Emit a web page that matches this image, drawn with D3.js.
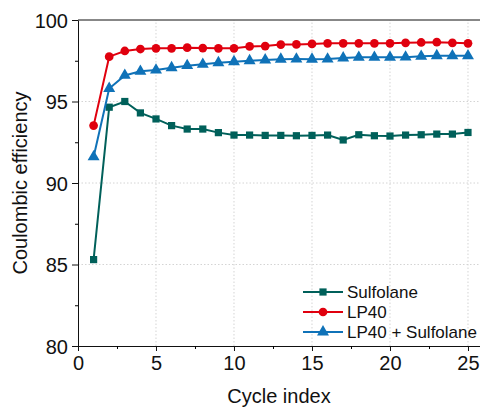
<!DOCTYPE html>
<html>
<head>
<meta charset="utf-8">
<script src="https://cdn.jsdelivr.net/npm/d3@7"></script>
<style>
  html, body { margin: 0; padding: 0; background: #fff; }
  svg { display: block; font-family: "Liberation Sans", Arial, sans-serif; }
</style>
</head>
<body>
<svg id="chart" width="480" height="408"></svg>
<script>
const cycles = d3.range(1, 26);

const sulfolane = [85.3, 94.65, 95.0, 94.3, 93.93, 93.52, 93.31, 93.31, 93.09, 92.94,
  92.94, 92.92, 92.92, 92.9, 92.92, 92.94, 92.64, 92.96, 92.9, 92.88,
  92.94, 92.96, 93.0, 93.0, 93.1];
const lp40 = [93.52, 97.75, 98.1, 98.22, 98.26, 98.26, 98.3, 98.28, 98.26, 98.26,
  98.38, 98.4, 98.49, 98.5, 98.53, 98.57, 98.57, 98.57, 98.57, 98.57,
  98.6, 98.62, 98.64, 98.6, 98.57];
const lp40Sulfolane = [91.6, 95.8, 96.6, 96.85, 96.93, 97.07, 97.2, 97.28, 97.38, 97.44,
  97.5, 97.55, 97.59, 97.6, 97.59, 97.6, 97.67, 97.71, 97.71, 97.71,
  97.72, 97.77, 97.81, 97.8, 97.8];

const seriesNames = ['Sulfolane', 'LP40', 'LP40 + Sulfolane'];
const seriesValues = [sulfolane, lp40, lp40Sulfolane];
const seriesColors = ['#00605a', '#e0000e', '#0f72b8'];
const seriesSymbols = [d3.symbolSquare, d3.symbolCircle, d3.symbolTriangle];
const symbolSizes = [52, 60, 62];

const xTicks = [0, 5, 10, 15, 20, 25];
const yTicks = [80, 85, 90, 95, 100];

const margin = { top: 20, right: 0, bottom: 62, left: 78 };
const width = 480, height = 408;

const svg = d3.select('#chart');

const x = d3.scaleLinear().domain([0, 25.77]).range([margin.left, width - margin.right]);
const y = d3.scaleLinear().domain([80, 100]).range([height - margin.bottom, margin.top]);

// dotted grid
const grid = svg.append('g')
  .attr('stroke', '#d4d4d4')
  .attr('stroke-width', 1)
  .attr('stroke-dasharray', '1.5,2');
grid.selectAll('.gx').data(xTicks.filter(d => d > 0))
  .enter().append('line')
  .attr('x1', d => x(d)).attr('x2', d => x(d))
  .attr('y1', y(80)).attr('y2', y(100));
grid.selectAll('.gy').data(yTicks.filter(d => d > 80 && d < 100))
  .enter().append('line')
  .attr('x1', x(0)).attr('x2', width)
  .attr('y1', d => y(d)).attr('y2', d => y(d));

// axes
const xAxis = svg.append('g')
  .attr('transform', `translate(0,${y(80)})`)
  .call(d3.axisBottom(x).tickValues(xTicks).tickSize(5).tickPadding(4).tickSizeOuter(0));
svg.append('g')
  .attr('transform', `translate(0,${y(80)})`)
  .call(d3.axisBottom(x).tickValues([2.5, 7.5, 12.5, 17.5, 22.5]).tickSize(3).tickFormat(''))
  .select('.domain').remove();

const yAxis = svg.append('g')
  .attr('transform', `translate(${x(0)},0)`)
  .call(d3.axisLeft(y).tickValues(yTicks).tickSize(6).tickPadding(4).tickSizeOuter(0));
svg.append('g')
  .attr('transform', `translate(${x(0)},0)`)
  .call(d3.axisLeft(y).tickValues([82.5, 87.5, 92.5, 97.5]).tickSize(3).tickFormat(''))
  .select('.domain').remove();

[xAxis, yAxis].forEach(a => {
  a.selectAll('text').attr('font-size', 20).attr('fill', '#111')
    .attr('font-family', '"Liberation Sans", Arial, sans-serif');
  a.selectAll('line, path').attr('stroke', '#111');
});
xAxis.selectAll('text').attr('dy', '0.75em');
yAxis.selectAll('text').attr('dy', '0.36em');

// top frame
svg.append('line')
  .attr('x1', x(0)).attr('x2', width)
  .attr('y1', y(100)).attr('y2', y(100))
  .attr('stroke', '#111');

// axis titles
svg.append('text')
  .attr('x', (x(0) + width) / 2).attr('y', 403)
  .attr('text-anchor', 'middle').attr('font-size', 20).attr('fill', '#111')
  .text('Cycle index');
svg.append('text')
  .attr('transform', `translate(27,${(y(80) + y(100)) / 2}) rotate(-90)`)
  .attr('text-anchor', 'middle').attr('font-size', 20).attr('fill', '#111')
  .text('Coulombic efficiency');

// series
const line = d3.line().x((d, i) => x(cycles[i])).y(d => y(d));
seriesValues.forEach((vals, k) => {
  const g = svg.append('g');
  g.append('path')
    .attr('d', line(vals))
    .attr('fill', 'none')
    .attr('stroke', seriesColors[k])
    .attr('stroke-width', 2);
  g.selectAll('path.m').data(vals).enter().append('path')
    .attr('class', 'm')
    .attr('d', d3.symbol().type(seriesSymbols[k]).size(symbolSizes[k]))
    .attr('transform', (d, i) => `translate(${x(cycles[i])},${y(d)})`)
    .attr('fill', seriesColors[k]);
});

// legend
const legend = svg.append('g').attr('transform', 'translate(303,292)');
seriesNames.forEach((name, k) => {
  const row = legend.append('g').attr('transform', `translate(0,${k * 20})`);
  row.append('line')
    .attr('x1', 0).attr('x2', 40)
    .attr('stroke', seriesColors[k]).attr('stroke-width', 2);
  row.append('path')
    .attr('d', d3.symbol().type(seriesSymbols[k]).size(symbolSizes[k]))
    .attr('transform', 'translate(20,0)')
    .attr('fill', seriesColors[k]);
  row.append('text')
    .attr('x', 44).attr('y', 6)
    .attr('font-size', 17).attr('fill', '#111')
    .text(name);
});
</script>
</body>
</html>
